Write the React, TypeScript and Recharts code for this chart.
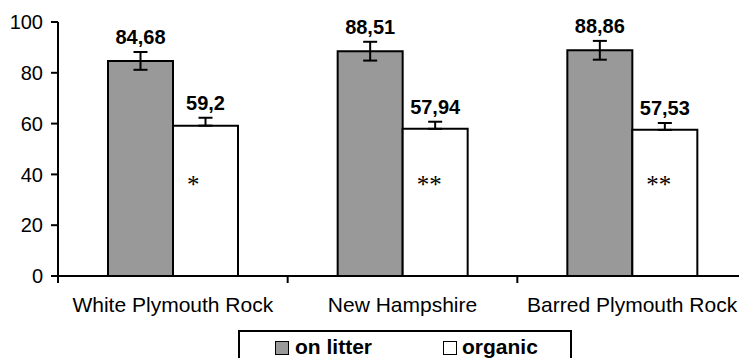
import { BarChart, Bar, XAxis, YAxis, ErrorBar, LabelList } from 'recharts'

const breeds = ['White Plymouth Rock', 'New Hampshire', 'Barred Plymouth Rock']
const onLitter = [84.68, 88.51, 88.86]
const organic = [59.2, 57.94, 57.53]
const onLitterErr = [3.5, 3.7, 3.7]
const organicErr = [3.1, 2.8, 2.7]
const stars = ['*', '**', '**']
const yTicks = [0, 20, 40, 60, 80, 100]

const data = breeds.map((name, i) => ({
  name,
  litter: onLitter[i],
  organic: organic[i],
  litterErr: onLitterErr[i],
  organicErr: [0, organicErr[i]],
}))

const FONT = 'Arial, "Liberation Sans", sans-serif'

function ValueLabel(props: any) {
  const { x, y, width, height, value, errs, index } = props
  const e = errs[index]
  const up = Array.isArray(e) ? e[1] : e
  const errTop = y - (up * height) / value
  return (
    <text x={x + width / 2} y={errTop - 8} textAnchor="middle" fontFamily={FONT} fontWeight="bold" fontSize={20} fill="#000">
      {String(value).replace('.', ',')}
    </text>
  )
}

function StarLabel(props: any) {
  const { x, y, height, index } = props
  return (
    <text x={x + 14} y={y + height - 83} fontFamily='"Liberation Serif", "Times New Roman", serif' fontSize={25} fill="#000">
      {stars[index]}
    </text>
  )
}

function BreedTick(props: any) {
  const { x, y, payload } = props
  const off = payload.offset || 115
  return (
    <g>
      <line x1={x - off} x2={x - off} y1={y} y2={y + 7} stroke="#000" strokeWidth={2} />
      <text x={x} y={y + 36} textAnchor="middle" fontFamily={FONT} fontSize={21} fill="#000">
        {payload.value}
      </text>
    </g>
  )
}

export default function App() {
  return (
    <div style={{ position: 'absolute', left: 0, top: 0, width: 739, height: 358, overflow: 'hidden', background: '#fff' }}>
      <BarChart width={750} height={358} data={data} margin={{ top: 22, right: 3, left: 0, bottom: 0 }} barGap={0} barSize={65}>
        <XAxis dataKey="name" height={82} tick={<BreedTick />} tickLine={false} tickSize={0} tickMargin={0} axisLine={{ stroke: '#000', strokeWidth: 2 }} interval={0} />
        <YAxis
          width={58}
          domain={[0, 100]}
          ticks={yTicks}
          interval={0}
          tickSize={7}
          tickMargin={8}
          axisLine={{ stroke: '#000', strokeWidth: 2 }}
          tickLine={{ stroke: '#000', strokeWidth: 2 }}
          tick={{ fontFamily: FONT, fontSize: 20, fill: '#000' }}
        />
        <Bar dataKey="litter" fill="#999999" stroke="#000" strokeWidth={2} isAnimationActive={false}>
          <ErrorBar dataKey="litterErr" width={7} stroke="#000" strokeWidth={2} />
          <LabelList dataKey="litter" content={<ValueLabel errs={onLitterErr} />} />
        </Bar>
        <Bar dataKey="organic" fill="#ffffff" stroke="#000" strokeWidth={2} isAnimationActive={false}>
          <ErrorBar dataKey="organicErr" width={7} stroke="#000" strokeWidth={2} />
          <LabelList dataKey="organic" content={<ValueLabel errs={organicErr} />} />
          <LabelList dataKey="organic" content={<StarLabel />} />
        </Bar>
      </BarChart>
      <div style={{ position: 'absolute', left: 238, top: 330, width: 330, height: 40, border: '2px solid #000', fontFamily: FONT, fontWeight: 'bold', fontSize: 21, color: '#000' }}>
        <div style={{ position: 'absolute', left: 35, top: 9, width: 12, height: 12, border: '1.5px solid #000', background: '#999999' }} />
        <div style={{ position: 'absolute', left: 55, top: 3, lineHeight: '24px' }}>on litter</div>
        <div style={{ position: 'absolute', left: 203, top: 9, width: 12, height: 12, border: '1.5px solid #000', background: '#fff' }} />
        <div style={{ position: 'absolute', left: 222, top: 3, lineHeight: '24px' }}>organic</div>
      </div>
    </div>
  )
}
